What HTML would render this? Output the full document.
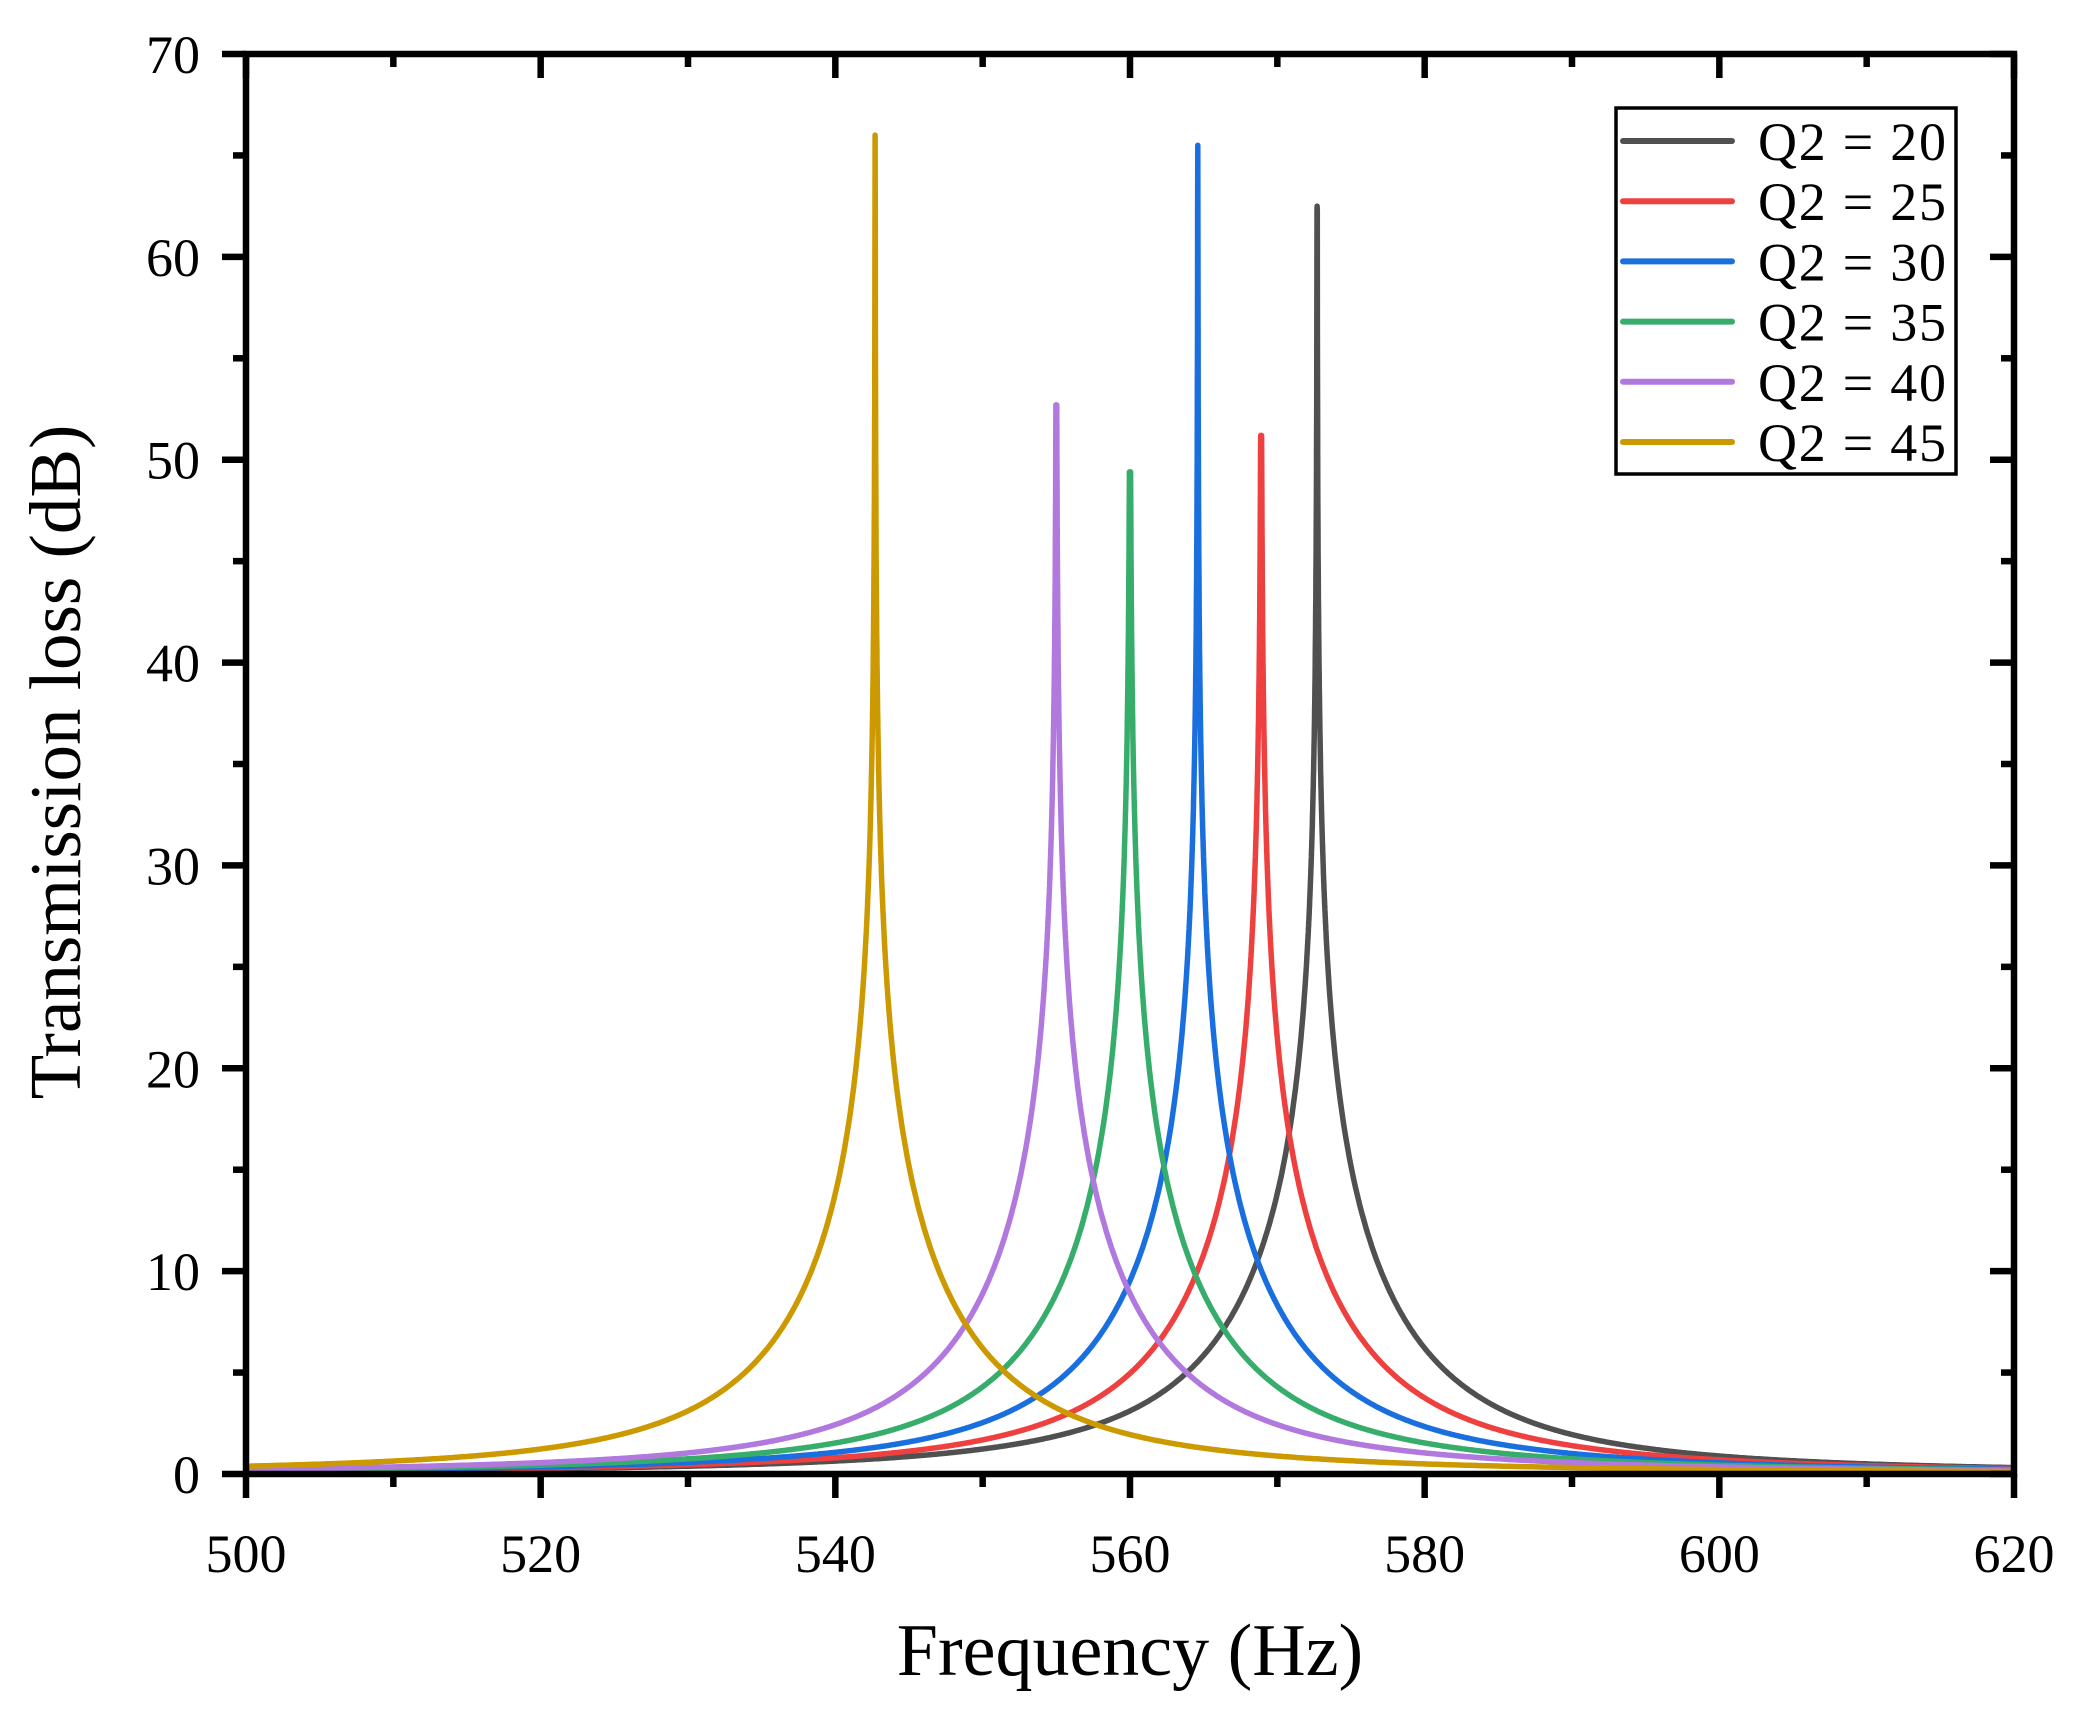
<!DOCTYPE html>
<html><head><meta charset="utf-8"><style>
html,body{margin:0;padding:0;background:#fff}
svg{display:block}
text{font-family:"Liberation Serif",serif;fill:#000}
</style></head><body>
<svg id="s" width="2077" height="1713" xmlns="http://www.w3.org/2000/svg">
<g id="curves" fill="none" stroke-width="5.5" stroke-linejoin="round"></g>
<g id="ax" stroke="#000" stroke-width="6.5" fill="none"></g>
<g id="lbl" font-size="54"></g>
<text x="1130" y="1675" font-size="74" text-anchor="middle">Frequency (Hz)</text>
<text transform="translate(80,762) rotate(-90)" font-size="73" text-anchor="middle">Transmission loss (dB)</text>
<rect x="1616" y="108" width="340" height="366" fill="#fff" stroke="#000" stroke-width="3.5"/>
<g id="leg" font-size="54"></g>
</svg>
<script>
const L=246,R=2014,T=54,B=1474;
const X=f=>L+(f-500)*(R-L)/120, Y=v=>B-v*(B-T)/70;
const S=[["#505050",572.7,62.5,"20"],["#ef4040",568.9,51.2,"25"],["#1a6fdf",564.6,65.5,"30"],["#37ad6b",560.0,49.4,"35"],["#b178de",555.0,52.7,"40"],["#cc9900",542.7,66,"45"]];
const K=13,ns="http://www.w3.org/2000/svg";
const cg=document.getElementById('curves');
function el(p,t,a){const e=document.createElementNS(ns,t);for(const k in a)e.setAttribute(k,a[k]);p.appendChild(e);return e;}
S.forEach(([c,f0,pk])=>{
 let fs=[];for(let f=500;f<=620;f+=0.1)fs.push(f);
 for(let d=-1.5;d<=1.5;d+=0.01)fs.push(f0+d);
 fs.push(f0);fs.sort((a,b)=>a-b);
 let d="";fs.forEach((f,i)=>{const df=f-f0;let v=Math.abs(df)<1e-6?pk:Math.min(pk,10*Math.log10(1+(K/df)**2));d+=(i?"L":"M")+X(f).toFixed(1)+","+Y(v).toFixed(1);});
 el(cg,"path",{d:d,stroke:c});
});
const ax=document.getElementById('ax'),lb=document.getElementById('lbl');
el(ax,"rect",{x:L,y:T,width:R-L,height:B-T});
for(let f=500;f<=620;f+=10){const x=X(f),mj=f%20==0,l=mj?24:13;
 el(ax,"line",{x1:x,y1:B,x2:x,y2:B+l});el(ax,"line",{x1:x,y1:T,x2:x,y2:T+l});
 if(mj){const t=el(lb,"text",{x:x,y:1572,"text-anchor":"middle"});t.textContent=f;}}
for(let v=0;v<=70;v+=5){const y=Y(v),mj=v%10==0,l=mj?24:13;
 el(ax,"line",{x1:L,y1:y,x2:L-l,y2:y});el(ax,"line",{x1:R,y1:y,x2:R-l,y2:y});
 if(mj){const t=el(lb,"text",{x:200,y:y+19,"text-anchor":"end"});t.textContent=v;}}
const lg=document.getElementById('leg');
S.forEach(([c,,,q],i)=>{const y=141+i*60.2;
 el(lg,"line",{x1:1623,y1:y,x2:1732,y2:y,stroke:c,"stroke-width":6,"stroke-linecap":"round"});
 const t=el(lg,"text",{x:1758,y:y+19,"xml:space":"preserve"});t.textContent="Q2 = "+q;
 t.setAttribute("textLength","188");t.setAttribute("lengthAdjust","spacing");});
</script>
</body></html>
